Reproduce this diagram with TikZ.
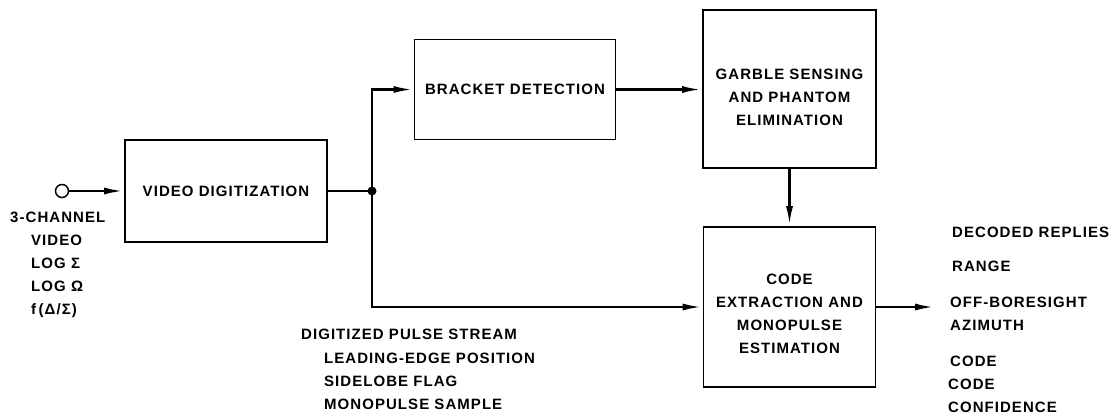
\documentclass[tikz,border=0pt]{standalone}
\usepackage{fontspec}
\setmainfont{Liberation Sans}[LetterSpace=7]
\usetikzlibrary{arrows.meta}

\begin{document}
\begin{tikzpicture}[x=1pt, y=-1pt, >={Latex[length=20pt,width=7pt]},
    font=\fontsize{15}{23}\selectfont\bfseries,
    block/.style={draw, rectangle, line width=1.8pt, align=center, inner sep=0pt},
    wire/.style={line width=2.6pt},
    txt/.style={inner sep=0pt, align=left, anchor=north west}]
    % Frame
    \useasboundingbox (0,0) rectangle (1119,419);

    % Blocks
    \node[block, minimum width=202pt, minimum height=102pt] (vd) at (226,191) {VIDEO DIGITIZATION};
    \node[block, minimum width=201pt, minimum height=100pt] (bd) at (515,89.5) {BRACKET DETECTION};
    \node[block, minimum width=173pt, minimum height=158pt, text height=73pt] (gs) at (789.5,89) {GARBLE SENSING\\AND PHANTOM\\ELIMINATION};
    \node[block, minimum width=172pt, minimum height=160pt, text height=93pt] (ce) at (789.5,307) {CODE\\EXTRACTION AND\\MONOPULSE\\ESTIMATION};

    % Input, junction, output
    \node[draw, circle, line width=1.5pt, minimum size=13pt, inner sep=0pt] (in) at (62,191) {};
    \coordinate (jn) at (372,191);
    \coordinate (out) at (935,307);
    \fill (jn) circle (4.5pt);

    % Connections
    \draw[wire, ->] (in) -- (vd);
    \draw[wire] (vd) -- (jn);
    \draw[wire, ->] (jn) |- (bd);
    \draw[wire, ->] (jn) |- (ce);
    \draw[wire, ->] (bd.east) -- (bd.east -| gs.west);
    \draw[wire, ->] (gs) -- (ce);
    \draw[wire, ->] (ce) -- (out);

    % Input labels
    \node[txt] (chan) at (10,211.5) {3-CHANNEL};
    \node[txt] (sig) at (31,234.5) {VIDEO\\LOG Σ\\LOG Ω\\f\,(Δ/Σ)};

    % Pulse stream labels
    \node[txt] (dps) at (301,328.5) {DIGITIZED PULSE STREAM};
    \node[txt] (flds) at (324,352.5) {LEADING-EDGE POSITION\\SIDELOBE FLAG\\MONOPULSE SAMPLE};

    % Output labels
    \node[txt] (dec) at (952,226.5) {DECODED REPLIES};
    \node[txt] (rng) at (952,260.5) {RANGE};
    \node[txt] (azi) at (950,296.5) {OFF-BORESIGHT\\AZIMUTH};
    \node[txt] (code) at (950,355.5) {CODE};
    \node[txt] (conf) at (948,378.5) {CODE\\CONFIDENCE};
\end{tikzpicture}
\end{document}
